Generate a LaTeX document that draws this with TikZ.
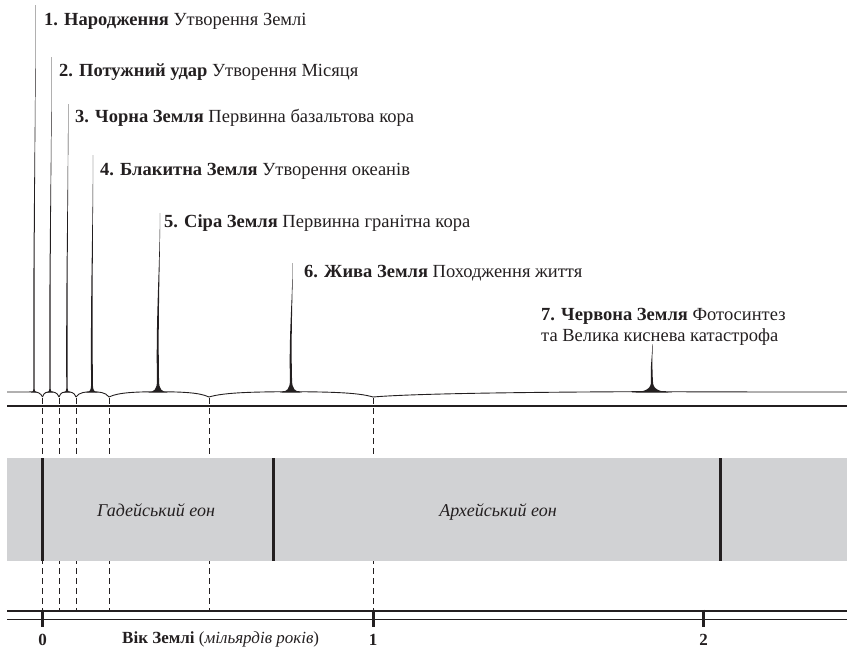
\documentclass[tikz,border=0pt]{standalone}
\usepackage{fontspec}
\setmainfont{Liberation Serif}
\definecolor{ink}{HTML}{231F20}
\definecolor{band}{HTML}{D1D2D4}
\newcommand\spk[7]{% #1 x, #2 tip y, #3 flare half width, #4 flare height, #5 tip offset, #6 half thickness, #7 wiggle
\fill[ink] ({#1-#3},392.5) .. controls ({#1-0.35*#3},392) and ({#1-#6},{392-0.3*#4}) .. ({#1-#6},{392-#4})
 .. controls ({#1-#6-#7},{(392-#4)*0.6+#2*0.4}) and ({#1+#5-0.1},{(392-#4)*0.3+#2*0.7}) .. ({#1+#5-0.12},#2)
 -- ({#1+#5+0.12},#2)
 .. controls ({#1+#5+0.25},{(392-#4)*0.3+#2*0.7}) and ({#1+#6-#7},{(392-#4)*0.6+#2*0.4}) .. ({#1+#6},{392-#4})
 .. controls ({#1+#6},{392-0.3*#4}) and ({#1+0.35*#3},392) .. ({#1+#3},392.5) -- cycle;}
\newcommand\arch[3]{% dip a, spike s, dip b
\draw[baseln] (#1,397) .. controls ({#1+0.2*(#2-#1)},392) and ({#2-0.4*(#2-#1)},392) .. (#2,391.6)
 .. controls ({#2+0.4*(#3-#2)},392) and ({#3-0.2*(#3-#2)},392) .. (#3,397);}
\begin{document}
\begin{tikzpicture}[x=1pt,y=-1pt,
  baseln/.style={draw=ink,line width=0.9pt},
  rule/.style={draw=ink,line width=1.1pt},
  dashln/.style={draw=ink,line width=0.8pt,dash pattern=on 6pt off 4pt},
  eonline/.style={draw=ink,line width=3pt},
  tick/.style={draw=ink,line width=3pt},
  lbl/.style={anchor=base west,inner sep=0pt,text=ink,font=\fontsize{18.5}{21}\selectfont},
  eon/.style={anchor=base,inner sep=0pt,text=ink,font=\fontsize{18}{21}\selectfont\itshape},
  num/.style={anchor=base,inner sep=0pt,text=ink,font=\fontsize{17}{20}\selectfont\bfseries}]
\useasboundingbox (0,0) rectangle (847,648);
% boundaries (dips)
\foreach \n/\x in {d0/42.5,d1/59,d2/76,d3/109,d4/209,d5/373}{
  \coordinate (\n top) at (\x,398);
  \coordinate (\n bot) at (\x,610);
}
% dashed boundary lines
\foreach \n in {d0,d1,d2,d3,d4,d5}{\draw[dashln] (\n top) -- (\n bot);}
% baseline curve
\draw[baseln] (7,392) -- (26,392) .. controls (30,392) and (33,391.8) .. (34,391.6)
  .. controls (37,392) and (41,393) .. (42.5,397);
\arch{42.5}{50}{59}
\arch{59}{67}{76}
\arch{76}{92}{109}
\arch{109}{158}{209}
\arch{209}{291}{373}
\draw[baseln] (373,397) .. controls (420,393) and (560,392) .. (652,391.6)
  .. controls (700,392) and (800,392) .. (847,392);
% spikes
\spk{34}{5}{3}{3}{1.6}{0.65}{0.6}
\spk{50}{57}{3.5}{3}{1.6}{0.65}{0.6}
\spk{67}{104}{3.5}{3.5}{1.2}{0.7}{0.6}
\spk{92}{155}{6}{7}{1.0}{0.9}{0.8}
\spk{158}{213}{10}{11}{2.0}{1.05}{1.2}
\spk{291}{263}{11}{12}{1.6}{1.05}{1.2}
\spk{652}{344}{20}{10}{0.4}{1.0}{1.0}
% solid rule
\draw[rule] (7,406) -- (847,406);
% labels
\node[lbl] (l1) at (44,25) {\textbf{1. Народження} Утворення Землі};
\node[lbl] (l2) at (59,76) {\textbf{2. Потужний удар} Утворення Місяця};
\node[lbl] (l3) at (75,122) {\textbf{3. Чорна Земля} Первинна базальтова кора};
\node[lbl] (l4) at (100,175) {\textbf{4. Блакитна Земля} Утворення океанів};
\node[lbl] (l5) at (164,227) {\textbf{5. Сіра Земля} Первинна гранітна кора};
\node[lbl] (l6) at (304,277) {\textbf{6. Жива Земля} Походження життя};
\node[lbl] (l7) at (541,320) {\textbf{7. Червона Земля} Фотосинтез};
\node[lbl] (l7b) at (541,341) {та Велика киснева катастрофа};
% eon band
\fill[band] (7,458) rectangle (847,561);
\foreach \n/\x in {e0/42.5,e1/273,e2/720}{
  \coordinate (\n top) at (\x,458);
  \coordinate (\n bot) at (\x,561);
  \draw[eonline] (\n top) -- (\n bot);
}
\node[eon] (hadean) at (156,516) {Гадейський еон};
\node[eon] (archean) at (498,516) {Архейський еон};
% axis
\draw[rule] (7,611) -- (847,611);
\draw[rule] (7,619.5) -- (847,619.5);
\foreach \n/\x/\t in {t0/42.5/0,t1/373/1,t2/703.5/2}{
  \coordinate (\n a) at (\x,609.5);
  \coordinate (\n b) at (\x,627);
  \draw[tick] (\n a) -- (\n b);
  \node[num] (\n lab) at (\x,645) {\t};
}
\node[lbl,font=\fontsize{17}{20}\selectfont] (axis) at (122,643) {\textbf{Вік Землі} (\textit{мільярдів років})};
\end{tikzpicture}
\end{document}
